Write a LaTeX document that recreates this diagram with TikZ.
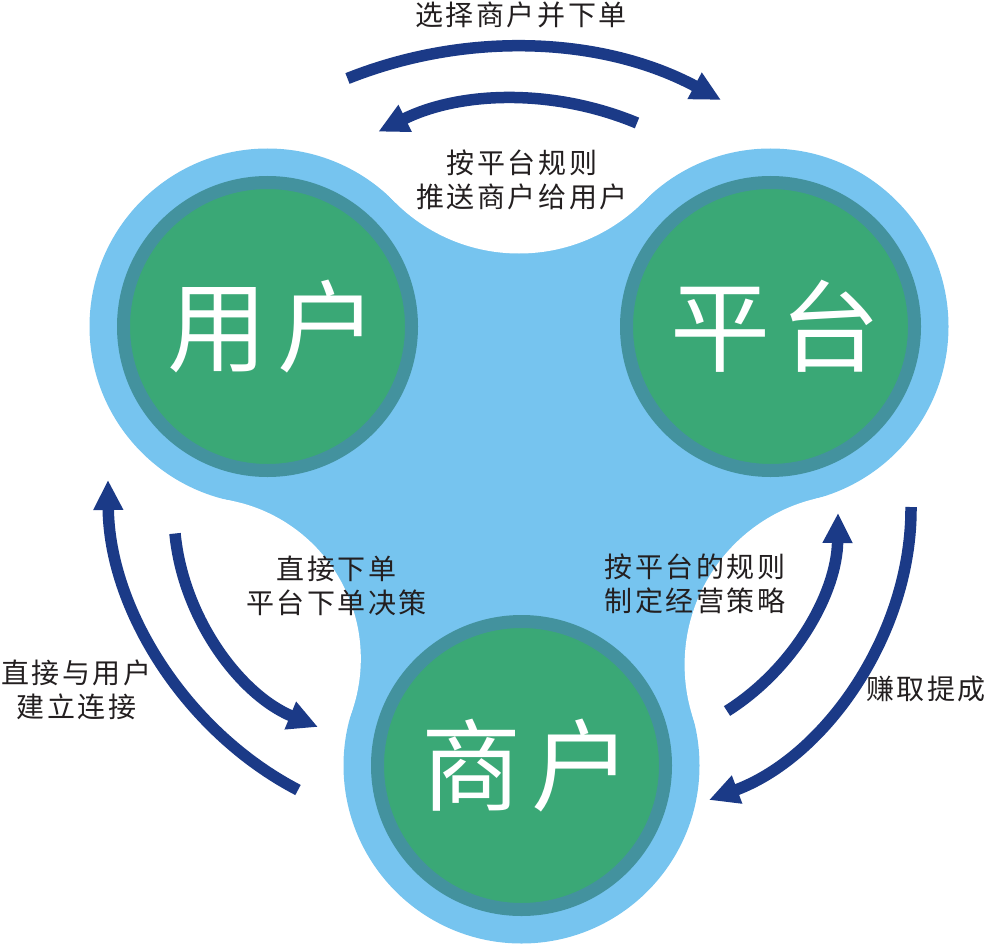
\documentclass[tikz,border=0pt]{standalone}
\usepackage{fontspec}
\setmainfont{Noto Sans CJK SC}
\newfontfamily\lblfont[LetterSpace=9]{Noto Sans CJK SC}
\newfontfamily\bigfont{Noto Sans CJK SC}
\usetikzlibrary{arrows.meta}
\definecolor{blobblue}{HTML}{76C4EF}
\definecolor{ringteal}{HTML}{43929E}
\definecolor{discgreen}{HTML}{3AA876}
\definecolor{arrowblue}{HTML}{1B3A87}
\definecolor{textdark}{HTML}{231F20}
\newcommand{\bigsep}{\hspace{10pt}}
\newcommand{\bigpad}{\hspace{10pt}}
\begin{document}
\begin{tikzpicture}[x=1pt,y=-1pt,
  disc/.style={circle, fill=discgreen, draw=ringteal, line width=13pt, minimum size=288pt, inner sep=0pt, text=white, font=\bigfont\fontsize{100}{110}\selectfont},
  lbl/.style={inner sep=0pt, text=textdark, align=center, font=\lblfont\fontsize{28}{34}\selectfont},
  flow/.style={draw=arrowblue, line width=11.5pt, -{Triangle[length=30pt,width=28pt]}, looseness=0.9}]
\useasboundingbox (0,0) rectangle (987,944);
% centres
\coordinate (cU) at (267.5,326.5);
\coordinate (cP) at (770.5,326.5);
\coordinate (cM) at (521.5,765.5);
% fillet tangent points and centres
\coordinate (tTU) at (394.1,201.3);
\coordinate (tTP) at (643.9,201.3);
\coordinate (tRP) at (813.8,499.1);
\coordinate (tRM) at (691.9,714.1);
\coordinate (tLM) at (352.6,709.4);
\coordinate (tLU) at (231.9,500.9);
\coordinate (fT) at (519,77.8);
\coordinate (fR) at (855.4,664.8);
\coordinate (fL) at (199.7,658.7);
% blob
\fill[blobblue] (cU) -- (tTU) -- (tTP) -- (cP) -- (tRP) -- (tRM) -- (cM) -- (tLM) -- (tLU) -- cycle;
\fill[blobblue] (cU) circle[radius=178] (cP) circle[radius=178] (cM) circle[radius=178];
\fill[white] (fT) circle[radius=175.7] (fR) circle[radius=170.8] (fL) circle[radius=161.1];
% discs
\node[disc] (user) at (cU) {\bigpad 用\bigsep 户};
\node[disc] (platform) at (cP) {\bigpad 平\bigsep 台};
\node[disc] (merchant) at (cM) {\bigpad 商\bigsep 户};
% arrows
\coordinate (a1t) at (347.5,78.5); \coordinate (a1h) at (721,100);
\draw[flow] (a1t) to[bend left=25] (a1h);
\coordinate (a2t) at (637,123); \coordinate (a2h) at (378.3,131.7);
\draw[flow] (a2t) to[bend right=24.5] (a2h);
\coordinate (a3t) at (298,790); \coordinate (a3h) at (108,480);
\draw[flow] (a3t) to[bend left=31] (a3h);
\coordinate (a4t) at (175,533.5); \coordinate (a4h) at (318,727);
\draw[flow] (a4t) to[bend right=31] (a4h);
\coordinate (a5t) at (727,711); \coordinate (a5h) at (838,513);
\draw[flow] (a5t) to[bend right=28.5] (a5h);
\coordinate (a6t) at (911,507); \coordinate (a6h) at (709,800);
\draw[flow] (a6t) to[bend left=35] (a6h);
% labels
\node[lbl] (l1) at (521,15) {选择商户并下单};
\node[lbl] (l2) at (522,180) {按平台规则\\推送商户给用户};
\node[lbl] (l3) at (336.5,585.5) {直接下单\\平台下单决策};
\node[lbl] (l4) at (695,583.5) {按平台的规则\\制定经营策略};
\node[lbl] (l5) at (926,689) {赚取提成};
\node[lbl] (l6) at (76.5,690) {直接与用户\\建立连接};
\end{tikzpicture}
\end{document}
